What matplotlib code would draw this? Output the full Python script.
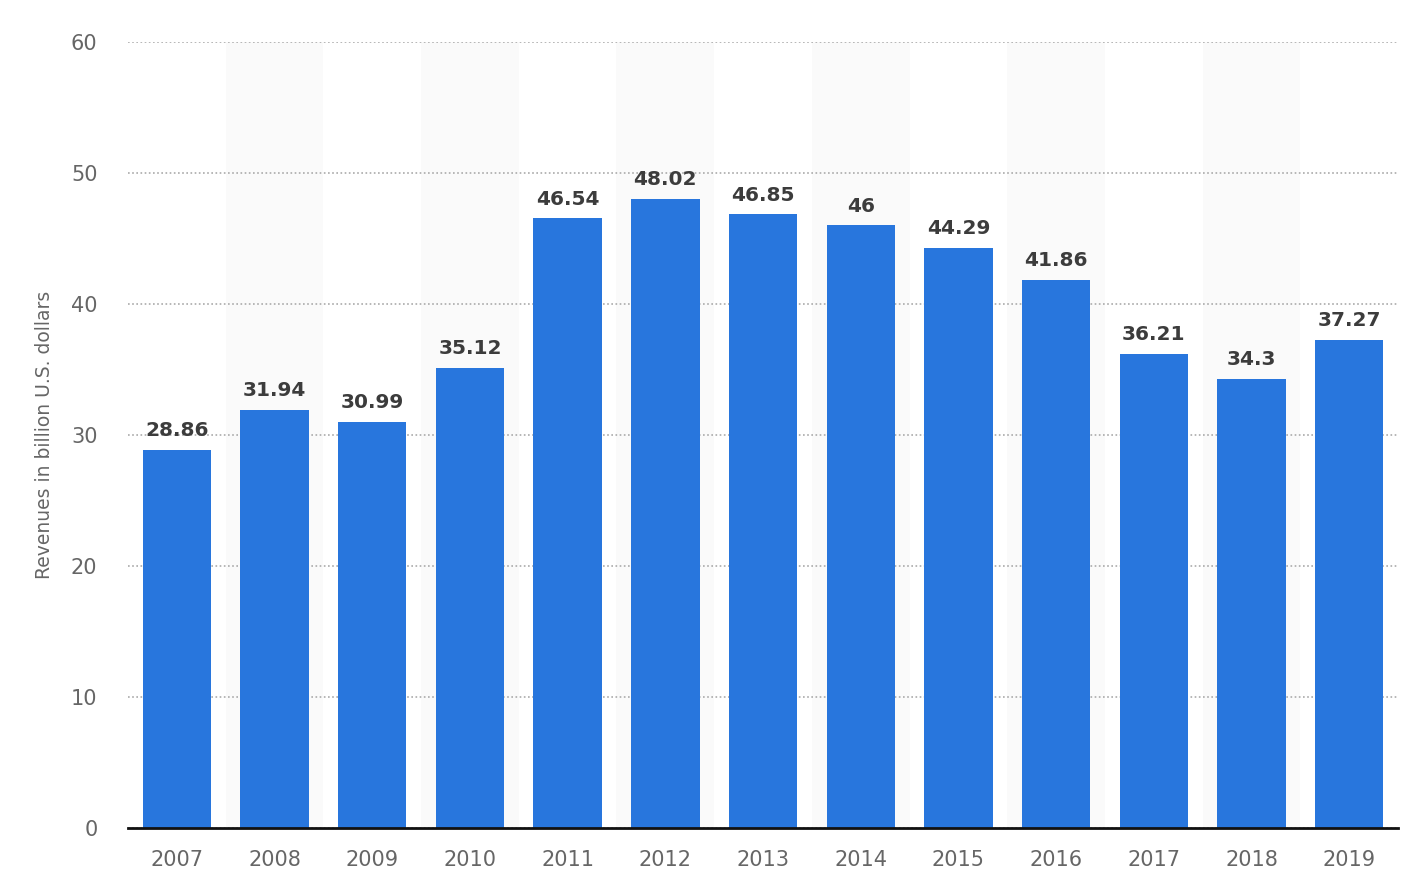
import matplotlib
matplotlib.use("Agg")
import matplotlib.pyplot as plt

years = ["2007", "2008", "2009", "2010", "2011", "2012", "2013",
         "2014", "2015", "2016", "2017", "2018", "2019"]
revenues = [28.86, 31.94, 30.99, 35.12, 46.54, 48.02, 46.85,
            46, 44.29, 41.86, 36.21, 34.3, 37.27]
value_labels = ["28.86", "31.94", "30.99", "35.12", "46.54", "48.02", "46.85",
                "46", "44.29", "41.86", "36.21", "34.3", "37.27"]
yticks = [0, 10, 20, 30, 40, 50, 60]

plt.rcParams['font.family'] = ['DejaVu Sans']

fig = plt.figure(figsize=(14.21, 8.81), dpi=100)
ax = fig.add_axes([0.0901, 0.0602, 0.8937, 0.8921])

x = list(range(len(years)))
for i in x:
    if i % 2 == 1:
        ax.axvspan(i - 0.5, i + 0.5, color="#fafafa", zorder=0, lw=0)

ax.set_ylim(0, 60)
ax.set_xlim(-0.5, len(years) - 0.5)
ax.set_yticks(yticks)
ax.yaxis.grid(True, linestyle=(0, (1, 1.5)), color="#aaaaaa", linewidth=1.2)
ax.set_axisbelow(True)

bars = ax.bar(x, revenues, width=0.7, color="#2876dd", zorder=3)
for xi, v, lab in zip(x, revenues, value_labels):
    ax.annotate(lab, (xi, v), xytext=(0, 7), textcoords="offset points",
                ha="center", va="bottom", fontsize=14.5, fontweight="bold",
                color="#3c3c3c", zorder=4)

ax.set_xticks(x)
ax.set_xticklabels(years)
for s in ["top", "right", "left"]:
    ax.spines[s].set_visible(False)
ax.spines["bottom"].set_color("#111111")
ax.spines["bottom"].set_linewidth(2)
ax.spines["bottom"].set_zorder(5)
ax.tick_params(axis="both", length=0, labelsize=15, labelcolor="#666666")
ax.tick_params(axis="x", pad=16)
ax.tick_params(axis="y", pad=22)
for lab in ax.get_yticklabels():
    lab.set_horizontalalignment("right")

ax.set_ylabel("Revenues in billion U.S. dollars", fontsize=13.5, color="#666666",
              labelpad=12)

fig.savefig("out.png", dpi=100)
